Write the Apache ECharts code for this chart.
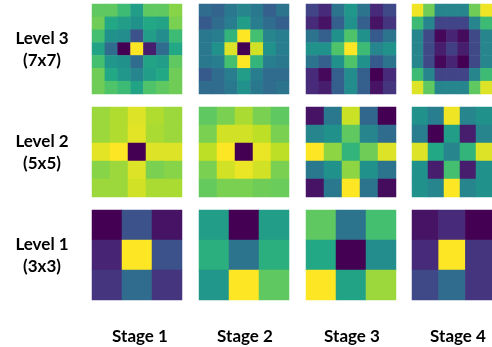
<!DOCTYPE html>
<html>
<head>
<meta charset="utf-8">
<script src="https://cdn.jsdelivr.net/npm/echarts@6/dist/echarts.min.js"></script>
<style>
  html, body { margin: 0; padding: 0; background: #fff; }
  #chart { width: 492px; height: 347px; }
</style>
</head>
<body>
<div id="chart"></div>
<script>
// stage / level labels
const stages = ["Stage 1", "Stage 2", "Stage 3", "Stage 4"];
const levels = ["Level 3\n(7x7)", "Level 2\n(5x5)", "Level 1\n(3x3)"];

// Level 3 (7x7) kernels, normalized 0..1, row 0 = top
const l3s1 = [
  [0.75, 0.75, 0.68, 0.55, 0.75, 0.75, 0.82],
  [0.78, 0.60, 0.55, 0.50, 0.60, 0.58, 0.80],
  [0.70, 0.50, 0.48, 0.25, 0.55, 0.48, 0.68],
  [0.58, 0.35, 0.00, 1.00, 0.08, 0.35, 0.60],
  [0.70, 0.52, 0.50, 0.35, 0.58, 0.55, 0.75],
  [0.78, 0.60, 0.52, 0.45, 0.55, 0.60, 0.78],
  [0.78, 0.72, 0.68, 0.58, 0.72, 0.75, 0.78]
];
const l3s2 = [
  [0.35, 0.32, 0.40, 0.45, 0.40, 0.30, 0.38],
  [0.28, 0.35, 0.42, 0.55, 0.42, 0.35, 0.30],
  [0.40, 0.42, 0.65, 1.00, 0.70, 0.45, 0.42],
  [0.40, 0.50, 0.95, 0.00, 0.93, 0.50, 0.42],
  [0.40, 0.42, 0.70, 1.00, 0.65, 0.42, 0.40],
  [0.28, 0.35, 0.42, 0.55, 0.42, 0.35, 0.35],
  [0.35, 0.35, 0.40, 0.50, 0.40, 0.35, 0.38]
];
const l3s3 = [
  [0.20, 0.12, 0.38, 0.52, 0.38, 0.12, 0.22],
  [0.12, 0.05, 0.30, 0.50, 0.30, 0.05, 0.15],
  [0.38, 0.30, 0.50, 0.72, 0.50, 0.28, 0.38],
  [0.50, 0.50, 0.72, 1.00, 0.68, 0.45, 0.50],
  [0.38, 0.30, 0.50, 0.72, 0.50, 0.28, 0.38],
  [0.12, 0.02, 0.30, 0.48, 0.30, 0.00, 0.12],
  [0.12, 0.08, 0.30, 0.48, 0.30, 0.05, 0.15]
];
const l3s4 = [
  [0.98, 0.78, 0.45, 0.45, 0.45, 0.78, 0.98],
  [0.68, 0.45, 0.20, 0.20, 0.20, 0.45, 0.68],
  [0.45, 0.22, 0.02, 0.10, 0.03, 0.22, 0.45],
  [0.45, 0.22, 0.08, 0.18, 0.08, 0.22, 0.45],
  [0.45, 0.22, 0.02, 0.10, 0.00, 0.22, 0.45],
  [0.68, 0.45, 0.20, 0.20, 0.20, 0.45, 0.68],
  [0.95, 0.75, 0.45, 0.45, 0.45, 0.75, 0.95]
];

// Level 2 (5x5)
const l2s1 = [
  [0.85, 0.88, 0.95, 0.88, 0.85],
  [0.85, 0.88, 0.96, 0.87, 0.85],
  [0.96, 1.00, 0.00, 0.95, 0.95],
  [0.82, 0.85, 0.95, 0.80, 0.82],
  [0.85, 0.85, 0.93, 0.87, 0.87]
];
const l2s2 = [
  [0.75, 0.80, 0.87, 0.80, 0.75],
  [0.80, 0.93, 0.93, 0.90, 0.80],
  [0.90, 1.00, 0.00, 0.97, 0.90],
  [0.80, 0.93, 0.97, 0.93, 0.80],
  [0.76, 0.80, 0.80, 0.78, 0.77]
];
const l2s3 = [
  [0.05, 0.40, 0.92, 0.33, 0.00],
  [0.45, 0.50, 0.75, 0.45, 0.35],
  [1.00, 0.83, 0.65, 0.78, 0.95],
  [0.40, 0.50, 0.83, 0.50, 0.38],
  [0.05, 0.40, 1.00, 0.38, 0.03]
];
const l2s4 = [
  [0.50, 0.42, 0.98, 0.45, 0.50],
  [0.42, 0.00, 0.55, 0.08, 0.45],
  [0.95, 0.60, 0.45, 0.65, 0.95],
  [0.50, 0.08, 0.70, 0.08, 0.50],
  [0.50, 0.45, 1.00, 0.45, 0.50]
];

// Level 1 (3x3)
const l1s1 = [
  [0.00, 0.25, 0.05],
  [0.10, 1.00, 0.25],
  [0.15, 0.35, 0.15]
];
const l1s2 = [
  [0.55, 0.00, 0.55],
  [0.63, 0.38, 0.63],
  [0.52, 1.00, 0.75]
];
const l1s3 = [
  [0.75, 0.38, 0.70],
  [0.60, 0.00, 0.48],
  [1.00, 0.58, 0.85]
];
const l1s4 = [
  [0.05, 0.12, 0.00],
  [0.12, 1.00, 0.15],
  [0.22, 0.35, 0.15]
];

const panels = [
  [l3s1, l3s2, l3s3, l3s4],
  [l2s1, l2s2, l2s3, l2s4],
  [l1s1, l1s2, l1s3, l1s4]
];

const viridis = ["#440154", "#482475", "#414487", "#355f8d", "#2a788e", "#21918c",
  "#22a884", "#44bf70", "#7ad151", "#bddf26", "#fde725"];

const rowTops = [4, 107, 210];
const colLefts = [92, 199, 306, 412];
const cell = 90;

const chart = echarts.init(document.getElementById("chart"), null, { renderer: "canvas" });

const grid = [], xAxis = [], yAxis = [], series = [];
panels.forEach((row, r) => {
  row.forEach((m, c) => {
    const idx = grid.length;
    const n = m.length;
    const cats = Array.from({ length: n }, (_, i) => i);
    grid.push({ left: colLefts[c], top: rowTops[r], width: cell, height: cell });
    xAxis.push({ type: "category", gridIndex: idx, data: cats, show: false });
    yAxis.push({ type: "category", gridIndex: idx, data: cats, show: false, inverse: true });
    const data = [];
    m.forEach((vals, y) => vals.forEach((v, x) => data.push([x, y, v])));
    series.push({
      type: "heatmap",
      xAxisIndex: idx,
      yAxisIndex: idx,
      data: data,
      itemStyle: { borderWidth: 0 },
      emphasis: { disabled: true }
    });
  });
});

const graphic = [];
levels.forEach((t, r) => {
  graphic.push({
    type: "text",
    x: 42,
    y: rowTops[r] + cell / 2 + 1,
    style: {
      text: t,
      align: "center",
      verticalAlign: "middle",
      fill: "#000",
      font: "bold 17px Lato",
      lineHeight: 22
    }
  });
});
stages.forEach((t, c) => {
  graphic.push({
    type: "text",
    x: [140, 245, 352, 458][c],
    y: 337,
    style: {
      text: t,
      align: "center",
      verticalAlign: "middle",
      fill: "#000",
      font: "bold 17px Lato"
    }
  });
});

chart.setOption({
  animation: false,
  backgroundColor: "#fff",
  grid: grid,
  xAxis: xAxis,
  yAxis: yAxis,
  visualMap: {
    show: false,
    min: 0,
    max: 1,
    dimension: 2,
    inRange: { color: viridis }
  },
  graphic: graphic,
  series: series
});
</script>
</body>
</html>
